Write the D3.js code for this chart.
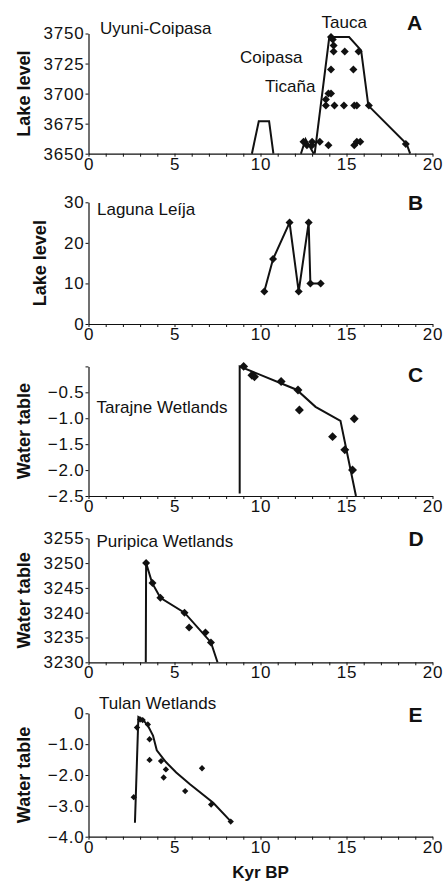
<!DOCTYPE html>
<html><head><meta charset="utf-8">
<script src="https://cdn.jsdelivr.net/npm/d3@7"></script>
<style>
body{margin:0;background:#fff}
text{font-family:"Liberation Sans",Arial,Helvetica,sans-serif;fill:#111}
</style>
</head><body>
<svg id="chart" width="444" height="884"></svg>
<script>
// ---------- data ----------
const xTickLabels = [0, 5, 10, 15, 20];

// Panel A: Uyuni-Coipasa lake level
const aTicks = [3650, 3675, 3700, 3725, 3750];
const aCoipasaLine = [[9.5,3650],[9.9,3677],[10.5,3677],[10.75,3650]];
const aTicanaLine = [[12.35,3650],[12.62,3662],[13.1,3650]];
const aTaucaLine = [[13.15,3650],[14.0,3747],[15.15,3747],[15.85,3736],[16.27,3690],[18.5,3658],[18.7,3650]];
const aPoints = [
  [12.5,3660],[12.7,3657],[13.0,3660],[13.0,3657],[13.45,3660],[13.95,3657],
  [15.45,3657],[15.6,3660],[15.8,3660],[18.45,3658],
  [13.8,3690],[14.3,3690],[14.85,3690],[15.45,3690],[15.6,3690],[16.3,3690],
  [13.8,3695],[13.95,3700],[14.1,3700],
  [14.1,3720],[15.4,3720],
  [14.25,3735],[14.9,3735],[15.7,3735],
  [14.1,3747],[14.2,3745],[14.25,3740]
];

// Panel B: Laguna Leíja lake level
const bTicks = [0, 10, 20, 30];
const bSeries = [[10.22,8],[10.73,16],[11.69,25],[12.22,8],[12.8,25],[12.9,10],[13.5,10]];

// Panel C: Tarajne Wetlands water table
const cTicks = [0, -0.5, -1.0, -1.5, -2.0, -2.5];
const cLine = [[8.79,-2.45],[8.79,0],[12.1,-0.45],[13.2,-0.78],[14.65,-1.05],[15.55,-2.5]];
const cPoints = [[9.02,0],[9.5,-0.17],[9.65,-0.2],[11.2,-0.29],[12.18,-0.455],[12.26,-0.84],
  [14.19,-1.355],[14.9,-1.61],[15.35,-2.0],[15.45,-1.01]];

// Panel D: Puripica Wetlands water table
const dTicks = [3230, 3235, 3240, 3245, 3250, 3255];
const dLine = [[3.33,3230],[3.35,3250],[3.7,3246],[4.18,3243],[5.58,3240],[7.12,3234],[7.5,3230]];
const dPoints = [[3.35,3250],[3.72,3246],[4.18,3243],[5.58,3240],[5.85,3237],[6.8,3236],[7.12,3234]];

// Panel E: Tulan Wetlands water table
const eTicks = [0, -1, -2, -3, -4];
const eLine = [[2.7,-3.55],[2.9,-0.12],[3.15,-0.2],[3.45,-0.4],[3.75,-0.72],[3.97,-1.2],
  [4.5,-1.58],[5.1,-1.92],[5.9,-2.3],[7.25,-2.9],[8.3,-3.52]];
const ePoints = [[2.63,-2.72],[2.82,-0.46],[3.0,-0.2],[3.15,-0.22],[3.45,-0.36],[3.55,-0.84],
  [3.55,-1.51],[4.22,-1.55],[4.37,-2.08],[4.5,-1.82],[5.62,-2.52],[6.6,-1.78],[7.13,-2.96],[8.27,-3.51]];

// ---------- drawing ----------
const svg = d3.select("#chart");
const x = d3.scaleLinear().domain([0, 20]).range([88.5, 432.5]);
const xMinor = d3.range(0, 21, 1);
const ink = "#111";

const fmtInt = d => d3.format("d")(d);
const fmtC = d => d === 0 ? "" : d3.format(".1f")(d);
const fmtE = d => d === 0 ? "0" : d3.format(".1f")(d);

const panels = [
  {top:33.5, bottom:153.7, domain:[3650,3750], ticks:aTicks, fmt:fmtInt, ylab:"Lake level", ylx:30,
   letter:"A", lx:407, ly:29.5, title:"Uyuni-Coipasa", tx:100, ty:34,
   lines:[aCoipasaLine, aTicanaLine, aTaucaLine], points:aPoints, psize:32,
   notes:[{t:"Tauca", x:321.5, y:27.5},{t:"Coipasa", x:240, y:62.5},{t:"Ticaña", x:265, y:91.5}]},
  {top:202.3, bottom:324, domain:[0,30], ticks:bTicks, fmt:fmtInt, ylab:"Lake level", ylx:46,
   letter:"B", lx:408, ly:209.5, title:"Laguna Leíja", tx:97, ty:215,
   lines:[bSeries], points:bSeries, psize:32, notes:[]},
  {top:366.4, bottom:496, domain:[-2.5,0], ticks:cTicks, fmt:fmtC, ylab:"Water table", ylx:30,
   letter:"C", lx:408, ly:381.5, title:"Tarajne Wetlands", tx:96.5, ty:413,
   lines:[cLine], points:cPoints, psize:40, notes:[]},
  {top:538.3, bottom:662.3, domain:[3230,3255], ticks:dTicks, fmt:fmtInt, ylab:"Water table", ylx:30,
   letter:"D", lx:408.5, ly:546, title:"Puripica Wetlands", tx:96.5, ty:546.5,
   lines:[dLine], points:dPoints, psize:32, notes:[]},
  {top:713.3, bottom:836.7, domain:[-4,0], ticks:eTicks, fmt:fmtE, ylab:"Water table", ylx:30,
   letter:"E", lx:408.5, ly:722, title:"Tulan Wetlands", tx:99, ty:709,
   lines:[eLine], points:ePoints, psize:20, notes:[]}
];

function styleAxis(g) {
  g.select(".domain").attr("stroke", ink).attr("stroke-width", 1.2);
  g.selectAll(".tick line").attr("stroke", ink).attr("stroke-width", 1);
  g.selectAll(".tick text").attr("fill", ink).style("font-size", "17px")
    .style("letter-spacing", "0.8px").attr("font-family", null);
}

panels.forEach(p => {
  const g = svg.append("g");
  const y = d3.scaleLinear().domain(p.domain).range([p.bottom, p.top]);

  const xa = d3.axisBottom(x).tickValues(xMinor).tickSize(3).tickSizeOuter(0).tickPadding(1)
    .tickFormat(d => xTickLabels.includes(d) ? d : "");
  g.append("g").attr("transform", `translate(0,${p.bottom})`).call(xa).call(styleAxis);

  const ya = d3.axisLeft(y).tickValues(p.ticks).tickSize(3).tickSizeOuter(0).tickPadding(1)
    .tickFormat(p.fmt);
  g.append("g").attr("transform", `translate(${x(0)},0)`).call(ya).call(styleAxis);

  const line = d3.line().x(d => x(d[0])).y(d => y(d[1]));
  p.lines.forEach(l => {
    g.append("path").attr("d", line(l)).attr("fill", "none")
      .attr("stroke", ink).attr("stroke-width", 2).attr("stroke-linejoin", "miter");
  });

  const sym = d3.symbol(d3.symbolSquare, p.psize);
  g.selectAll("path.pt").data(p.points).join("path").attr("class", "pt")
    .attr("d", sym).attr("fill", ink)
    .attr("transform", d => `translate(${x(d[0])},${y(d[1])}) rotate(45)`);

  g.append("text").attr("x", p.tx).attr("y", p.ty).style("font-size", "17px").text(p.title);
  p.notes.forEach(n => g.append("text").attr("x", n.x).attr("y", n.y).style("font-size", "17px").text(n.t));
  g.append("text").attr("x", p.lx).attr("y", p.ly).style("font-size", "21px")
    .style("font-weight", "bold").text(p.letter);

  g.append("text").attr("transform", `translate(${p.ylx},${(p.top + p.bottom) / 2}) rotate(-90)`)
    .attr("text-anchor", "middle").style("font-size", "18px").style("font-weight", "bold").text(p.ylab);
});

svg.append("text").attr("x", x(10)).attr("y", 878).attr("text-anchor", "middle")
  .style("font-size", "17px").style("font-weight", "bold").text("Kyr BP");
</script>
</body></html>
